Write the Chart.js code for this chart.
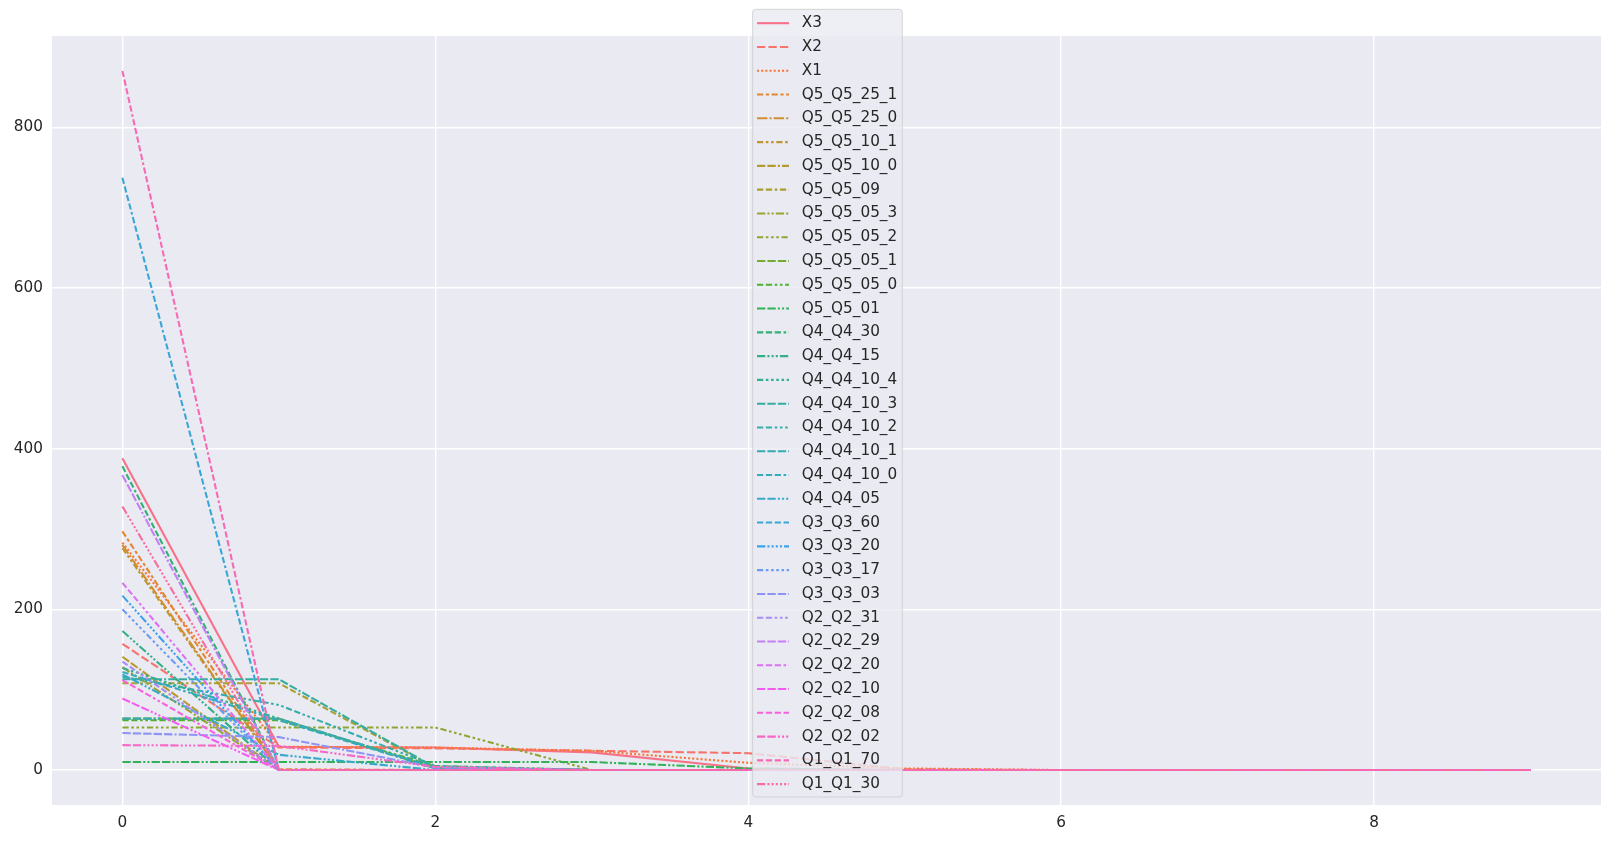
<!DOCTYPE html>
<html>
<head>
<meta charset="utf-8">
<script src="https://cdn.jsdelivr.net/npm/chart.js@4.4.1/dist/chart.umd.min.js"></script>
<style>
  html, body { margin: 0; padding: 0; background: #ffffff; }
  #wrap { width: 1612px; height: 843px; }
</style>
</head>
<body>
<div id="wrap"><canvas id="chart" width="1612" height="843"></canvas></div>
<script>
// data
const xValues = [0, 1, 2, 3, 4, 5, 6, 7, 8, 9];
const xTicks = [0, 2, 4, 6, 8];
const yTicks = [0, 200, 400, 600, 800];

const seriesNames = [
  'X3', 'X2', 'X1',
  'Q5_Q5_25_1', 'Q5_Q5_25_0', 'Q5_Q5_10_1', 'Q5_Q5_10_0', 'Q5_Q5_09',
  'Q5_Q5_05_3', 'Q5_Q5_05_2', 'Q5_Q5_05_1', 'Q5_Q5_05_0', 'Q5_Q5_01',
  'Q4_Q4_30', 'Q4_Q4_15', 'Q4_Q4_10_4', 'Q4_Q4_10_3', 'Q4_Q4_10_2',
  'Q4_Q4_10_1', 'Q4_Q4_10_0', 'Q4_Q4_05',
  'Q3_Q3_60', 'Q3_Q3_20', 'Q3_Q3_17', 'Q3_Q3_03',
  'Q2_Q2_31', 'Q2_Q2_29', 'Q2_Q2_20', 'Q2_Q2_10', 'Q2_Q2_08', 'Q2_Q2_02',
  'Q1_Q1_70', 'Q1_Q1_30'
];

const seriesValues = [
  [388, 29, 28, 22, 2, 0, 0, 0, 0, 0],   // X3
  [157, 28, 27, 24, 21, 1, 0, 0, 0, 0],  // X2
  [283, 29, 28, 24, 9, 2, 0, 0, 0, 0],   // X1
  [297, 1, 0, 0, 0, 0, 0, 0, 0, 0],      // Q5_Q5_25_1
  [280, 0, 0, 0, 0, 0, 0, 0, 0, 0],      // Q5_Q5_25_0
  [276, 0, 0, 0, 0, 0, 0, 0, 0, 0],      // Q5_Q5_10_1
  [141, 0, 0, 0, 0, 0, 0, 0, 0, 0],      // Q5_Q5_10_0
  [108, 108, 3, 0, 0, 0, 0, 0, 0, 0],    // Q5_Q5_09
  [128, 0, 0, 0, 0, 0, 0, 0, 0, 0],      // Q5_Q5_05_3
  [53, 53, 53, 0, 0, 0, 0, 0, 0, 0],     // Q5_Q5_05_2
  [64, 64, 2, 0, 0, 0, 0, 0, 0, 0],      // Q5_Q5_05_1
  [62, 62, 5, 0, 0, 0, 0, 0, 0, 0],      // Q5_Q5_05_0
  [10, 10, 10, 10, 2, 0, 0, 0, 0, 0],    // Q5_Q5_01
  [378, 0, 0, 0, 0, 0, 0, 0, 0, 0],      // Q4_Q4_30
  [173, 0, 0, 0, 0, 0, 0, 0, 0, 0],      // Q4_Q4_15
  [127, 64, 2, 0, 0, 0, 0, 0, 0, 0],     // Q4_Q4_10_4
  [113, 113, 3, 0, 0, 0, 0, 0, 0, 0],    // Q4_Q4_10_3
  [116, 81, 5, 0, 0, 0, 0, 0, 0, 0],     // Q4_Q4_10_2
  [64, 64, 3, 0, 0, 0, 0, 0, 0, 0],      // Q4_Q4_10_1
  [122, 62, 2, 0, 0, 0, 0, 0, 0, 0],     // Q4_Q4_10_0
  [119, 19, 0, 0, 0, 0, 0, 0, 0, 0],     // Q4_Q4_05
  [737, 0, 0, 0, 0, 0, 0, 0, 0, 0],      // Q3_Q3_60
  [217, 0, 0, 0, 0, 0, 0, 0, 0, 0],      // Q3_Q3_20
  [200, 0, 0, 0, 0, 0, 0, 0, 0, 0],      // Q3_Q3_17
  [46, 41, 3, 0, 0, 0, 0, 0, 0, 0],      // Q3_Q3_03
  [135, 0, 0, 0, 0, 0, 0, 0, 0, 0],      // Q2_Q2_31
  [367, 0, 0, 0, 0, 0, 0, 0, 0, 0],      // Q2_Q2_29
  [233, 0, 0, 0, 0, 0, 0, 0, 0, 0],      // Q2_Q2_20
  [89, 0, 0, 0, 0, 0, 0, 0, 0, 0],       // Q2_Q2_10
  [112, 0, 0, 0, 0, 0, 0, 0, 0, 0],      // Q2_Q2_08
  [31, 30, 4, 0, 0, 0, 0, 0, 0, 0],      // Q2_Q2_02
  [870, 0, 0, 0, 0, 0, 0, 0, 0, 0],      // Q1_Q1_70
  [328, 0, 0, 0, 0, 0, 0, 0, 0, 0]       // Q1_Q1_30
];

// husl colour palette (same maths as the husl palette of seaborn)
function huslToRgb(h, s, l) {
  const m = [[3.2406, -1.5372, -0.4986], [-0.9689, 1.8758, 0.0415], [0.0557, -0.2040, 1.0570]];
  const hrad = h / 180 * Math.PI;
  const sinH = Math.sin(hrad), cosH = Math.cos(hrad);
  const sub1 = Math.pow(l + 16, 3) / 1560896;
  const sub2 = sub1 > 0.008856 ? sub1 : l / 903.3;
  let maxC = Infinity;
  m.forEach(function(row) {
    const top = (0.99915 * row[0] + 1.05122 * row[1] + 1.14460 * row[2]) * sub2;
    const rbottom = 0.86330 * row[2] - 0.17266 * row[1];
    const lbottom = 0.12949 * row[2] - 0.38848 * row[0];
    const bottom = (rbottom * sinH + lbottom * cosH) * sub2;
    [0, 1].forEach(function(t) {
      const c = l * (top - 1.05122 * t) / (bottom + 0.17266 * sinH * t);
      if (c > 0 && c < maxC) maxC = c;
    });
  });
  const C = maxC / 100 * s;
  const U = Math.cos(hrad) * C, V = Math.sin(hrad) * C;
  const t = (l + 16) / 116;
  const varY = Math.pow(t, 3) > 0.008856 ? Math.pow(t, 3) : (116 * t - 16) / 903.3;
  const varU = U / (13 * l) + 0.19784;
  const varV = V / (13 * l) + 0.46834;
  const Y = varY;
  const X = -(9 * Y * varU) / ((varU - 4) * varV - varU * varV);
  const Z = (9 * Y - 15 * varV * Y - varV * X) / (3 * varV);
  const rgb = m.map(function(row) {
    let c = row[0] * X + row[1] * Y + row[2] * Z;
    c = c <= 0.0031308 ? 12.92 * c : 1.055 * Math.pow(c, 1 / 2.4) - 0.055;
    return Math.round(Math.min(1, Math.max(0, c)) * 255);
  });
  return 'rgb(' + rgb.join(',') + ')';
}

function huslPalette(n) {
  const out = [];
  for (let i = 0; i < n; i++) {
    const h = ((i / n) + 0.01) % 1 * 359;
    out.push(huslToRgb(h, 0.9 * 99, 0.65 * 99));
  }
  return out;
}

// dash patterns in the order seaborn hands them out
function uniqueDashes(n) {
  const dashes = [[], [4, 1.5], [1, 1], [3, 1.25, 1.5, 1.25], [5, 1, 1, 1]];
  let p = 3;
  while (dashes.length < n) {
    for (let j = 0; j <= p - 2; j++) {
      const a = [], b = [];
      for (let k = 0; k < p; k++) {
        a.push(k < j + 1 ? 3 : 1.25);
        b.push(k < p - 1 - j ? 4 : 1);
      }
      [a, b].forEach(function(seg) {
        const gap = Math.min.apply(null, seg);
        const spec = [];
        seg.forEach(function(v) { spec.push(v, gap); });
        dashes.push(spec);
      });
    }
    p++;
  }
  return dashes.slice(0, n);
}

const LW = 1.5 * 100 / 72;
const FONT = 'DejaVu Sans';
const FONT_SIZE = 15.28;
const TEXT_COLOR = '#262626';
const AXES_BG = '#eaeaf2';

const colors = huslPalette(seriesNames.length);
const dashes = uniqueDashes(seriesNames.length);

const allValues = [].concat.apply([], seriesValues);
const yMaxData = Math.max.apply(null, allValues);
const yMinData = Math.min.apply(null, allValues);
const yPad = (yMaxData - yMinData) * 0.05;
const xPad = (xValues[xValues.length - 1] - xValues[0]) * 0.05;

const datasets = seriesNames.map(function(name, i) {
  return {
    label: name,
    data: xValues.map(function(x, j) { return { x: x, y: seriesValues[i][j] }; }),
    borderColor: colors[i],
    backgroundColor: colors[i],
    borderWidth: LW,
    borderDash: dashes[i].map(function(d) { return d * LW; }),
    borderCapStyle: 'butt',
    borderJoinStyle: 'round',
    pointRadius: 0,
    tension: 0,
    fill: false,
    order: seriesNames.length - i
  };
});

// axes background
const axesBackground = {
  id: 'axesBackground',
  beforeDraw: function(chart) {
    const a = chart.chartArea;
    const ctx = chart.ctx;
    ctx.save();
    ctx.fillStyle = AXES_BG;
    ctx.fillRect(a.left, a.top, a.right - a.left, a.bottom - a.top);
    ctx.restore();
  }
};

// legend drawn over the plot like the matplotlib one
const boxLegend = {
  id: 'boxLegend',
  afterDraw: function(chart) {
    const ctx = chart.ctx;
    const left = 752.7, top = 9.3, right = 902.3, bottom = 797, r = 3;
    ctx.save();
    ctx.beginPath();
    ctx.moveTo(left + r, top);
    ctx.arcTo(right, top, right, bottom, r);
    ctx.arcTo(right, bottom, left, bottom, r);
    ctx.arcTo(left, bottom, left, top, r);
    ctx.arcTo(left, top, right, top, r);
    ctx.closePath();
    ctx.fillStyle = 'rgba(234,234,242,0.8)';
    ctx.fill();
    ctx.strokeStyle = 'rgba(204,204,204,0.8)';
    ctx.lineWidth = 1;
    ctx.stroke();

    ctx.font = FONT_SIZE + 'px "' + FONT + '"';
    ctx.textBaseline = 'middle';
    ctx.textAlign = 'left';
    chart.data.datasets.forEach(function(ds, i) {
      const y = 23.2 + i * 23.78;
      ctx.beginPath();
      ctx.setLineDash(ds.borderDash);
      ctx.lineCap = 'butt';
      ctx.strokeStyle = ds.borderColor;
      ctx.lineWidth = ds.borderWidth;
      ctx.moveTo(757, y);
      ctx.lineTo(789, y);
      ctx.stroke();
      ctx.setLineDash([]);
      ctx.fillStyle = TEXT_COLOR;
      ctx.fillText(ds.label, 801.7, y);
    });
    ctx.restore();
  }
};

new Chart(document.getElementById('chart').getContext('2d'), {
  type: 'line',
  data: { datasets: datasets },
  options: {
    responsive: false,
    animation: false,
    devicePixelRatio: 1,
    layout: { padding: { top: 36, right: 11, left: 0, bottom: 0 } },
    plugins: {
      legend: { display: false },
      tooltip: { enabled: false }
    },
    scales: {
      x: {
        type: 'linear',
        min: xValues[0] - xPad,
        max: xValues[xValues.length - 1] + xPad,
        afterBuildTicks: function(scale) {
          scale.ticks = xTicks.map(function(v) { return { value: v }; });
        },
        afterFit: function(scale) { scale.height = 38; },
        grid: { color: '#ffffff', lineWidth: 1.4, drawTicks: false },
        border: { display: false },
        ticks: {
          color: TEXT_COLOR,
          font: { family: FONT, size: FONT_SIZE },
          padding: 9,
          maxRotation: 0,
          callback: function(v) { return String(v); }
        }
      },
      y: {
        type: 'linear',
        min: yMinData - yPad,
        max: yMaxData + yPad,
        afterBuildTicks: function(scale) {
          scale.ticks = yTicks.map(function(v) { return { value: v }; });
        },
        afterFit: function(scale) { scale.width = 52; },
        grid: { color: '#ffffff', lineWidth: 1.4, drawTicks: false },
        border: { display: false },
        ticks: {
          color: TEXT_COLOR,
          font: { family: FONT, size: FONT_SIZE },
          padding: 9,
          callback: function(v) { return String(v); }
        }
      }
    }
  },
  plugins: [axesBackground, boxLegend]
});
</script>
</body>
</html>
